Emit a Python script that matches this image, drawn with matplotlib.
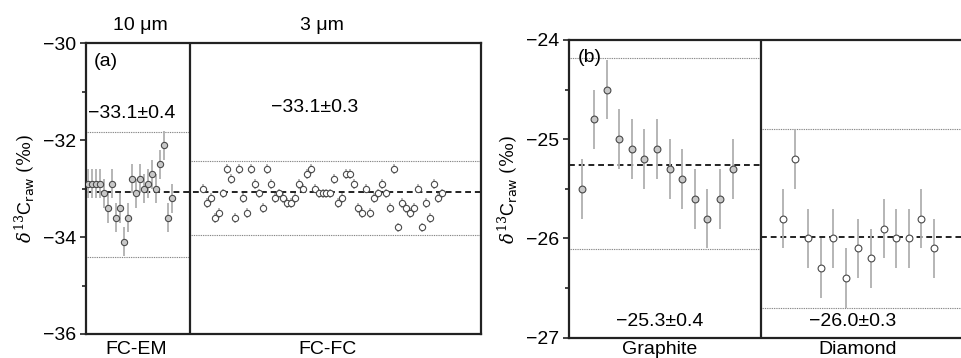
import numpy as np
import matplotlib
matplotlib.use("Agg")
import matplotlib.pyplot as plt
from matplotlib.ticker import MultipleLocator

plt.rcParams['font.family'] = ['Liberation Sans', 'DejaVu Sans']
plt.rcParams['mathtext.fontset'] = 'dejavuserif'

# Panel (a) data
fcem_vals = [-32.9, -32.9, -32.9, -32.9, -33.1, -33.4, -32.9, -33.6, -33.4, -34.1, -33.6,
             -32.8, -33.1, -32.8, -33.0, -32.9, -32.7, -33.0, -32.5, -32.1, -33.6, -33.2]
fcem_err = 0.3
fcfc_vals = [-33.0, -33.3, -33.2, -33.6, -33.5, -33.1, -32.6, -32.8, -33.6, -32.6, -33.2,
             -33.5, -32.6, -32.9, -33.1, -33.4, -32.6, -32.9, -33.2, -33.1, -33.2, -33.3,
             -33.3, -33.2, -32.9, -33.0, -32.7, -32.6, -33.0, -33.1, -33.1, -33.1, -33.1,
             -32.8, -33.3, -33.2, -32.7, -32.7, -32.9, -33.4, -33.5, -33.0, -33.5, -33.2,
             -33.1, -32.9, -33.1, -33.4, -32.6, -33.8, -33.3, -33.4, -33.5, -33.4, -33.0,
             -33.8, -33.3, -33.6, -32.9, -33.2, -33.1]
fcfc_err = 0.1
a_mean = -33.07
fcem_band = (-31.84, -34.41)
fcfc_band = (-32.42, -33.95)

# Panel (b) data
graphite_vals = [-25.5, -24.8, -24.5, -25.0, -25.1, -25.2, -25.1, -25.3, -25.4, -25.6, -25.8, -25.6, -25.3]
diamond_vals = [-25.8, -25.2, -26.0, -26.3, -26.0, -26.4, -26.1, -26.2, -25.9, -26.0, -26.0, -25.8, -26.1]
b_err = 0.3
graphite_mean = -25.26
diamond_mean = -25.99
graphite_band = (-24.185, -26.11)
diamond_band = (-24.90, -26.70)

W, H = 961, 358
fig = plt.figure(figsize=(W / 100, H / 100), dpi=100)


def rect(l, t, r, b):
    return [l / W, 1 - b / H, (r - l) / W, (b - t) / H]


def ftext(x, y, s, **kw):
    fig.text(x / W, 1 - y / H, s, ha=kw.pop('ha', 'center'), va=kw.pop('va', 'center'), **kw)


spine_col = '#222222'
err_col = '#b0b0b0'
edge_col = '#4a4a4a'
fill_col = '#c8c8c8'
band_col = '#777777'
ylab = r'$\delta^{13}$C$_{\mathsf{raw}}$ $(\it{‰})$'
TICK_FS = 14
TXT_FS = 14


def style(ax):
    for s in ax.spines.values():
        s.set_linewidth(1.6)
        s.set_color(spine_col)
    ax.tick_params(axis='y', which='both', direction='out', width=1.2, color=spine_col,
                   labelsize=TICK_FS, pad=3)
    ax.tick_params(axis='y', which='major', length=4)
    ax.tick_params(axis='y', which='minor', length=3)
    ax.set_xticks([])


def points(ax, x, y, err, face, ms):
    ax.errorbar(x, y, yerr=err, fmt='o', ms=ms, mfc=face, mec=edge_col, mew=0.8,
                ecolor=err_col, elinewidth=1.3, capsize=0, zorder=3)


def band(ax, x0, x1, v):
    ax.plot([x0, x1], [v, v], color=band_col, lw=0.8, ls=(0, (0.8, 0.8)), zorder=1)


# ---- panel (a)
ax1 = fig.add_axes(rect(86, 43.3, 481, 334))
style(ax1)
x_em = np.arange(1, len(fcem_vals) + 1)
x_fc = np.arange(30, 30 + len(fcfc_vals))
div_a = 26.7
ax1.set_xlim(0.45, 99.9)
ax1.set_ylim(-36, -30)
ax1.yaxis.set_major_locator(MultipleLocator(2))
ax1.yaxis.set_minor_locator(MultipleLocator(1))
ax1.set_yticklabels([f'\u2212{abs(int(v))}' for v in ax1.get_yticks()])
ax1.axvline(div_a, color=spine_col, lw=1.6)
ax1.axhline(a_mean, color='#222222', lw=1.4, ls=(0, (3, 2)), zorder=2)
for v in fcem_band:
    band(ax1, 0.45, div_a, v)
for v in fcfc_band:
    band(ax1, div_a, 99.9, v)
points(ax1, x_em, fcem_vals, fcem_err, fill_col, 4.5)
points(ax1, x_fc, fcfc_vals, fcfc_err, 'white', 4.5)
ax1.set_ylabel(ylab, fontsize=13, labelpad=4)

ftext(94, 62, '(a)', ha='left', fontsize=TXT_FS)
ftext(132, 114, '\u221233.1\u00b10.4', fontsize=TXT_FS)
ftext(315, 108, '\u221233.1\u00b10.3', fontsize=TXT_FS)
ftext(140, 25, '10 \u03bcm', fontsize=TXT_FS)
ftext(322, 25, '3 \u03bcm', fontsize=TXT_FS)
ftext(136, 349, 'FC-EM', fontsize=TXT_FS)
ftext(328, 349, 'FC-FC', fontsize=TXT_FS)

# ---- panel (b)
ax2 = fig.add_axes(rect(569, 40, 961, 337.7))
style(ax2)
ax2.spines['right'].set_visible(False)
x_gr = np.arange(1, len(graphite_vals) + 1)
x_di = np.arange(17, 17 + len(diamond_vals))
div_b = 15.29
xr = 31.16
ax2.set_xlim(0, xr)
ax2.set_ylim(-27, -24)
ax2.yaxis.set_major_locator(MultipleLocator(1))
ax2.yaxis.set_minor_locator(MultipleLocator(0.5))
ax2.set_yticklabels([f'\u2212{abs(int(v))}' for v in ax2.get_yticks()])
ax2.axvline(div_b, color=spine_col, lw=1.6)
ax2.plot([0, div_b], [graphite_mean] * 2, color='#222222', lw=1.4, ls=(0, (3, 2)), zorder=2)
ax2.plot([div_b, xr], [diamond_mean] * 2, color='#222222', lw=1.4, ls=(0, (3, 2)), zorder=2)
for v in graphite_band:
    band(ax2, 0, div_b, v)
for v in diamond_band:
    band(ax2, div_b, xr, v)
points(ax2, x_gr, graphite_vals, b_err, fill_col, 4.9)
points(ax2, x_di, diamond_vals, b_err, 'white', 4.9)
ax2.set_ylabel(ylab, fontsize=13, labelpad=4)

ftext(578, 58, '(b)', ha='left', fontsize=TXT_FS)
ftext(660, 322, '\u221225.3\u00b10.4', fontsize=TXT_FS)
ftext(853, 322, '\u221226.0\u00b10.3', fontsize=TXT_FS)
ftext(660, 349, 'Graphite', fontsize=TXT_FS)
ftext(858, 349, 'Diamond', fontsize=TXT_FS)

fig.savefig('out.png', dpi=100)
